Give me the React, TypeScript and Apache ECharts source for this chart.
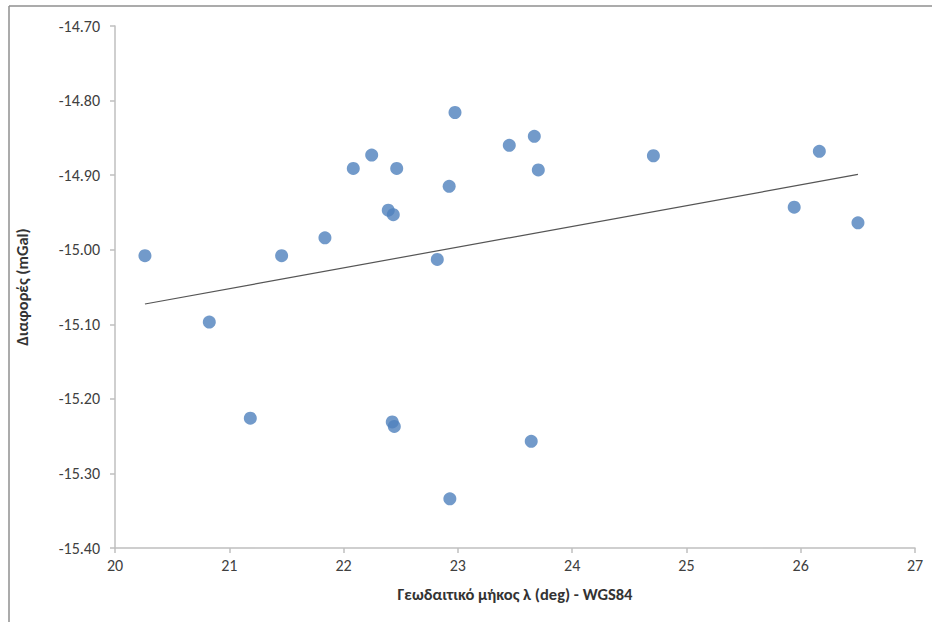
import React, { useEffect, useRef } from "react";
import * as echarts from "echarts";

const longitudes = [
  20.262, 20.825, 21.184, 21.458, 21.837, 22.085, 22.246, 22.391, 22.435, 22.465,
  22.426, 22.444, 22.82, 22.924, 22.975, 22.93, 23.45, 23.669, 23.704, 23.642,
  24.711, 25.943, 26.163, 26.501,
];
const differences = [
  -15.008, -15.097, -15.226, -15.008, -14.984, -14.891, -14.873, -14.947, -14.953, -14.891,
  -15.231, -15.237, -15.013, -14.915, -14.816, -15.334, -14.86, -14.848, -14.893, -15.257,
  -14.874, -14.943, -14.868, -14.964,
];
const xTitle = "Γεωδαιτικό μήκος λ (deg) - WGS84";
const yTitle = "Διαφορές (mGal)";

const FONT = "Calibri, Carlito, Lato, 'Noto Sans', sans-serif";

function trend(xs: number[], ys: number[]) {
  const n = xs.length;
  const mx = xs.reduce((a, b) => a + b, 0) / n;
  const my = ys.reduce((a, b) => a + b, 0) / n;
  let sxy = 0;
  let sxx = 0;
  for (let i = 0; i < n; i++) {
    sxy += (xs[i] - mx) * (ys[i] - my);
    sxx += (xs[i] - mx) * (xs[i] - mx);
  }
  const b = sxy / sxx;
  const a = my - b * mx;
  const x0 = Math.min(...xs);
  const x1 = Math.max(...xs);
  return [
    [x0, a + b * x0],
    [x1, a + b * x1],
  ];
}

export default function App() {
  const ref = useRef<HTMLDivElement>(null);
  useEffect(() => {
    document.body.style.margin = "0";
    const chart = echarts.init(ref.current!, null, { renderer: "svg" });
    const points = longitudes.map((x, i) => [x, differences[i]]);
    chart.setOption({
      animation: false,
      backgroundColor: "#ffffff",
      grid: { left: 115, top: 26, right: 17, bottom: 74 },
      xAxis: {
        type: "value",
        min: 20,
        max: 27,
        interval: 1,
        name: xTitle,
        nameLocation: "middle",
        nameGap: 37,
        nameTextStyle: { fontFamily: FONT, fontSize: 16.5, fontWeight: "bold", color: "#333333" },
        axisLine: { show: true, onZero: false, lineStyle: { color: "#BFBFBF", width: 1.5 } },
        axisTick: { show: true, length: 5, lineStyle: { color: "#BFBFBF", width: 1.5 } },
        axisLabel: { margin: 9, fontFamily: FONT, fontSize: 16, color: "#404040" },
        splitLine: { show: false },
      },
      yAxis: {
        type: "value",
        min: -15.4,
        max: -14.7,
        interval: 0.1,
        name: yTitle,
        nameLocation: "middle",
        nameGap: 85,
        nameRotate: 90,
        nameTextStyle: { fontFamily: FONT, fontSize: 16.5, fontWeight: "bold", color: "#333333" },
        axisLine: { show: true, onZero: false, lineStyle: { color: "#BFBFBF", width: 1.5 } },
        axisTick: { show: true, length: 5, lineStyle: { color: "#BFBFBF", width: 1.5 } },
        axisLabel: {
          margin: 15,
          fontFamily: FONT,
          fontSize: 16,
          color: "#404040",
          formatter: (v: number) => v.toFixed(2),
        },
        splitLine: { show: false },
      },
      graphic: [
        {
          type: "line",
          shape: { x1: 9, y1: 6, x2: 9, y2: 622 },
          style: { stroke: "#8f8f8f", lineWidth: 1.5 },
        },
        {
          type: "line",
          shape: { x1: 9, y1: 6, x2: 932, y2: 6 },
          style: { stroke: "#8f8f8f", lineWidth: 1.5 },
        },
      ],
      series: [
        {
          type: "scatter",
          data: points,
          symbol: "circle",
          symbolSize: 13,
          itemStyle: { color: "#4F81BD" },
          z: 3,
        },
        {
          type: "line",
          data: trend(longitudes, differences),
          symbol: "none",
          lineStyle: { color: "#555555", width: 1.2 },
          z: 2,
        },
      ],
    });
    return () => chart.dispose();
  }, []);
  return <div ref={ref} style={{ width: 932, height: 622 }} />;
}
